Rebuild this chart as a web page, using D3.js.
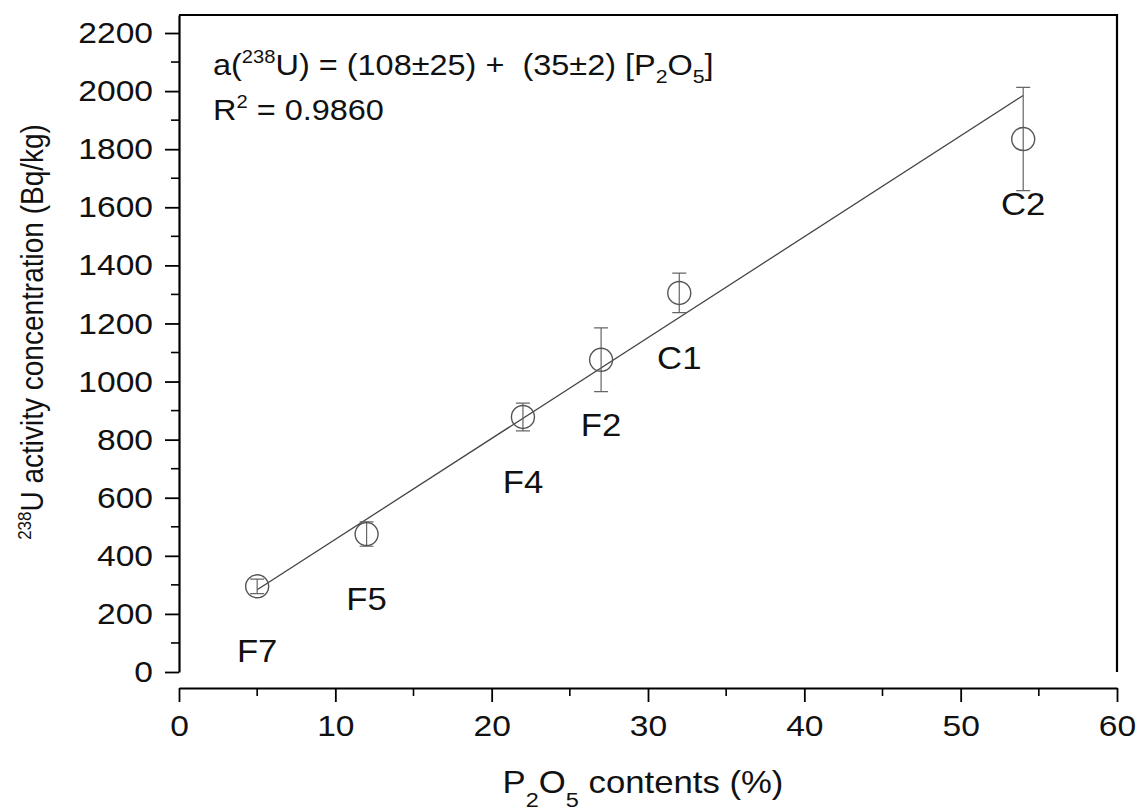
<!DOCTYPE html>
<html>
<head>
<meta charset="utf-8">
<script src="https://cdn.jsdelivr.net/npm/d3@7"></script>
<style>
  body { margin: 0; background: #fff; }
  text { font-family: Arial, "Liberation Sans", sans-serif; fill: #111; }
</style>
</head>
<body>
<script>
// samples
const samples = ['F7', 'F5', 'F4', 'F2', 'C1', 'C2']
const p2o5 = [5, 12, 22, 27, 32, 54]            // %
const uranium = [295, 475, 878, 1075, 1305, 1835] // Bq/kg
const uErr = [25, 42, 48, 110, 68, 178]

// fitted line end points
const fitX = [5, 54]
const fitY = [283, 1985]

const xTicks = [0, 10, 20, 30, 40, 50, 60]
const xMinor = [5, 15, 25, 35, 45, 55]
const yTicks = [0, 200, 400, 600, 800, 1000, 1200, 1400, 1600, 1800, 2000, 2200]
const yMinor = [100, 300, 500, 700, 900, 1100, 1300, 1500, 1700, 1900, 2100]

const m = { width: 1141, height: 812 }
const k = 1.12 // the scan is stretched a bit sideways

const svg = d3.select('body').append('svg')
    .attr('width', m.width)
    .attr('height', m.height)

const x = d3.scaleLinear().domain([0, 60]).range([179, 1117])
const y = d3.scaleLinear().domain([0, 2262]).range([672, 15])

// y axis
const yAxis = svg.append('g')
    .attr('transform', 'translate(179,0)')
    .call(d3.axisLeft(y).tickValues(yTicks).tickFormat(d3.format('d'))
        .tickSize(14).tickSizeOuter(0).tickPadding(12))
yAxis.selectAll('text')
    .attr('font-size', 30)
    .attr('x', -26 / k)
    .attr('transform', `scale(${k},1)`)
yAxis.append('g')
    .selectAll('line')
    .data(yMinor)
    .enter()
    .append('line')
        .attr('x1', -8).attr('x2', 0)
        .attr('y1', d => y(d)).attr('y2', d => y(d))
        .attr('stroke', '#000')
        .attr('stroke-width', 1.6)

// x axis, offset below the frame
const xAxis = svg.append('g')
    .attr('transform', 'translate(0,688)')
    .call(d3.axisBottom(x).tickValues(xTicks).tickSize(14).tickSizeOuter(0).tickPadding(13))
xAxis.selectAll('text')
    .attr('font-size', 30)
    .attr('transform', `scale(${k},1)`)
xAxis.append('g')
    .selectAll('line')
    .data(xMinor)
    .enter()
    .append('line')
        .attr('x1', d => x(d)).attr('x2', d => x(d))
        .attr('y1', 0).attr('y2', 8)
        .attr('stroke', '#000')
        .attr('stroke-width', 1.6)

svg.selectAll('.domain').attr('stroke-width', 2.2)
svg.selectAll('.tick line').attr('stroke-width', 1.8)

// frame top and right
svg.append('path')
    .attr('d', `M${x(0)},${y(2262)}H${x(60)}V${y(0)}`)
    .attr('fill', 'none')
    .attr('stroke', '#000')
    .attr('stroke-width', 2.2)

// fit line
svg.append('line')
    .attr('x1', x(fitX[0])).attr('y1', y(fitY[0]))
    .attr('x2', x(fitX[1])).attr('y2', y(fitY[1]))
    .attr('stroke', '#444')
    .attr('stroke-width', 1.3)

// error bars
const pts = samples.map((s, i) => ({ s: s, x: p2o5[i], y: uranium[i], e: uErr[i] }))

const eb = svg.append('g')
    .attr('stroke', '#666')
    .attr('stroke-width', 1.2)
    .attr('fill', 'none')
eb.selectAll('.bar')
    .data(pts)
    .enter()
    .append('path')
        .attr('d', d => {
            const cx = x(d.x), t = y(d.y + d.e), b = y(d.y - d.e)
            return `M${cx - 7},${t}H${cx + 7}M${cx},${t}V${b}M${cx - 7},${b}H${cx + 7}`
        })

// points
svg.selectAll('.pt')
    .data(pts)
    .enter()
    .append('circle')
        .attr('cx', d => x(d.x))
        .attr('cy', d => y(d.y))
        .attr('r', 11.5)
        .attr('fill', 'none')
        .attr('stroke', '#555')
        .attr('stroke-width', 1.4)

// sample labels
svg.selectAll('.lab')
    .data(pts)
    .enter()
    .append('text')
        .attr('transform', d => `translate(${x(d.x)},${y(d.y) + 76}) scale(${k},1)`)
        .attr('text-anchor', 'middle')
        .attr('font-size', 31)
        .text(d => d.s)

// equation
const eq = svg.append('text')
    .attr('transform', `translate(213,75) scale(${k},1)`)
    .attr('font-size', 29)
eq.append('tspan').text('a(')
eq.append('tspan').attr('font-size', 18).attr('dy', -12).text('238')
eq.append('tspan').attr('dy', 12).text('U) = (108\u00b125) +\u00a0\u00a0(35\u00b12) [P')
eq.append('tspan').attr('font-size', 19).attr('dy', 8).text('2')
eq.append('tspan').attr('dy', -8).text('O')
eq.append('tspan').attr('font-size', 19).attr('dy', 8).text('5')
eq.append('tspan').attr('dy', -8).text(']')

const r2 = svg.append('text')
    .attr('transform', `translate(213,120) scale(${k},1)`)
    .attr('font-size', 29)
r2.append('tspan').text('R')
r2.append('tspan').attr('font-size', 18).attr('dy', -12).text('2')
r2.append('tspan').attr('dy', 12).text(' = 0.9860')

// axis titles
const yt = svg.append('text')
    .attr('transform', `translate(43,332) scale(${k},1) rotate(-90)`)
    .attr('text-anchor', 'middle')
    .attr('font-size', 28)
yt.append('tspan').attr('font-size', 17).attr('dy', -11).text('238')
yt.append('tspan').attr('dy', 11).text('U activity concentration (Bq/kg)')

const xt = svg.append('text')
    .attr('transform', `translate(643,793) scale(${k},1)`)
    .attr('text-anchor', 'middle')
    .attr('font-size', 31)
xt.append('tspan').text('P')
xt.append('tspan').attr('font-size', 21).attr('dy', 14).text('2')
xt.append('tspan').attr('dy', -14).text('O')
xt.append('tspan').attr('font-size', 21).attr('dy', 14).text('5')
xt.append('tspan').attr('dy', -14).text(' contents (%)')
</script>
</body>
</html>
